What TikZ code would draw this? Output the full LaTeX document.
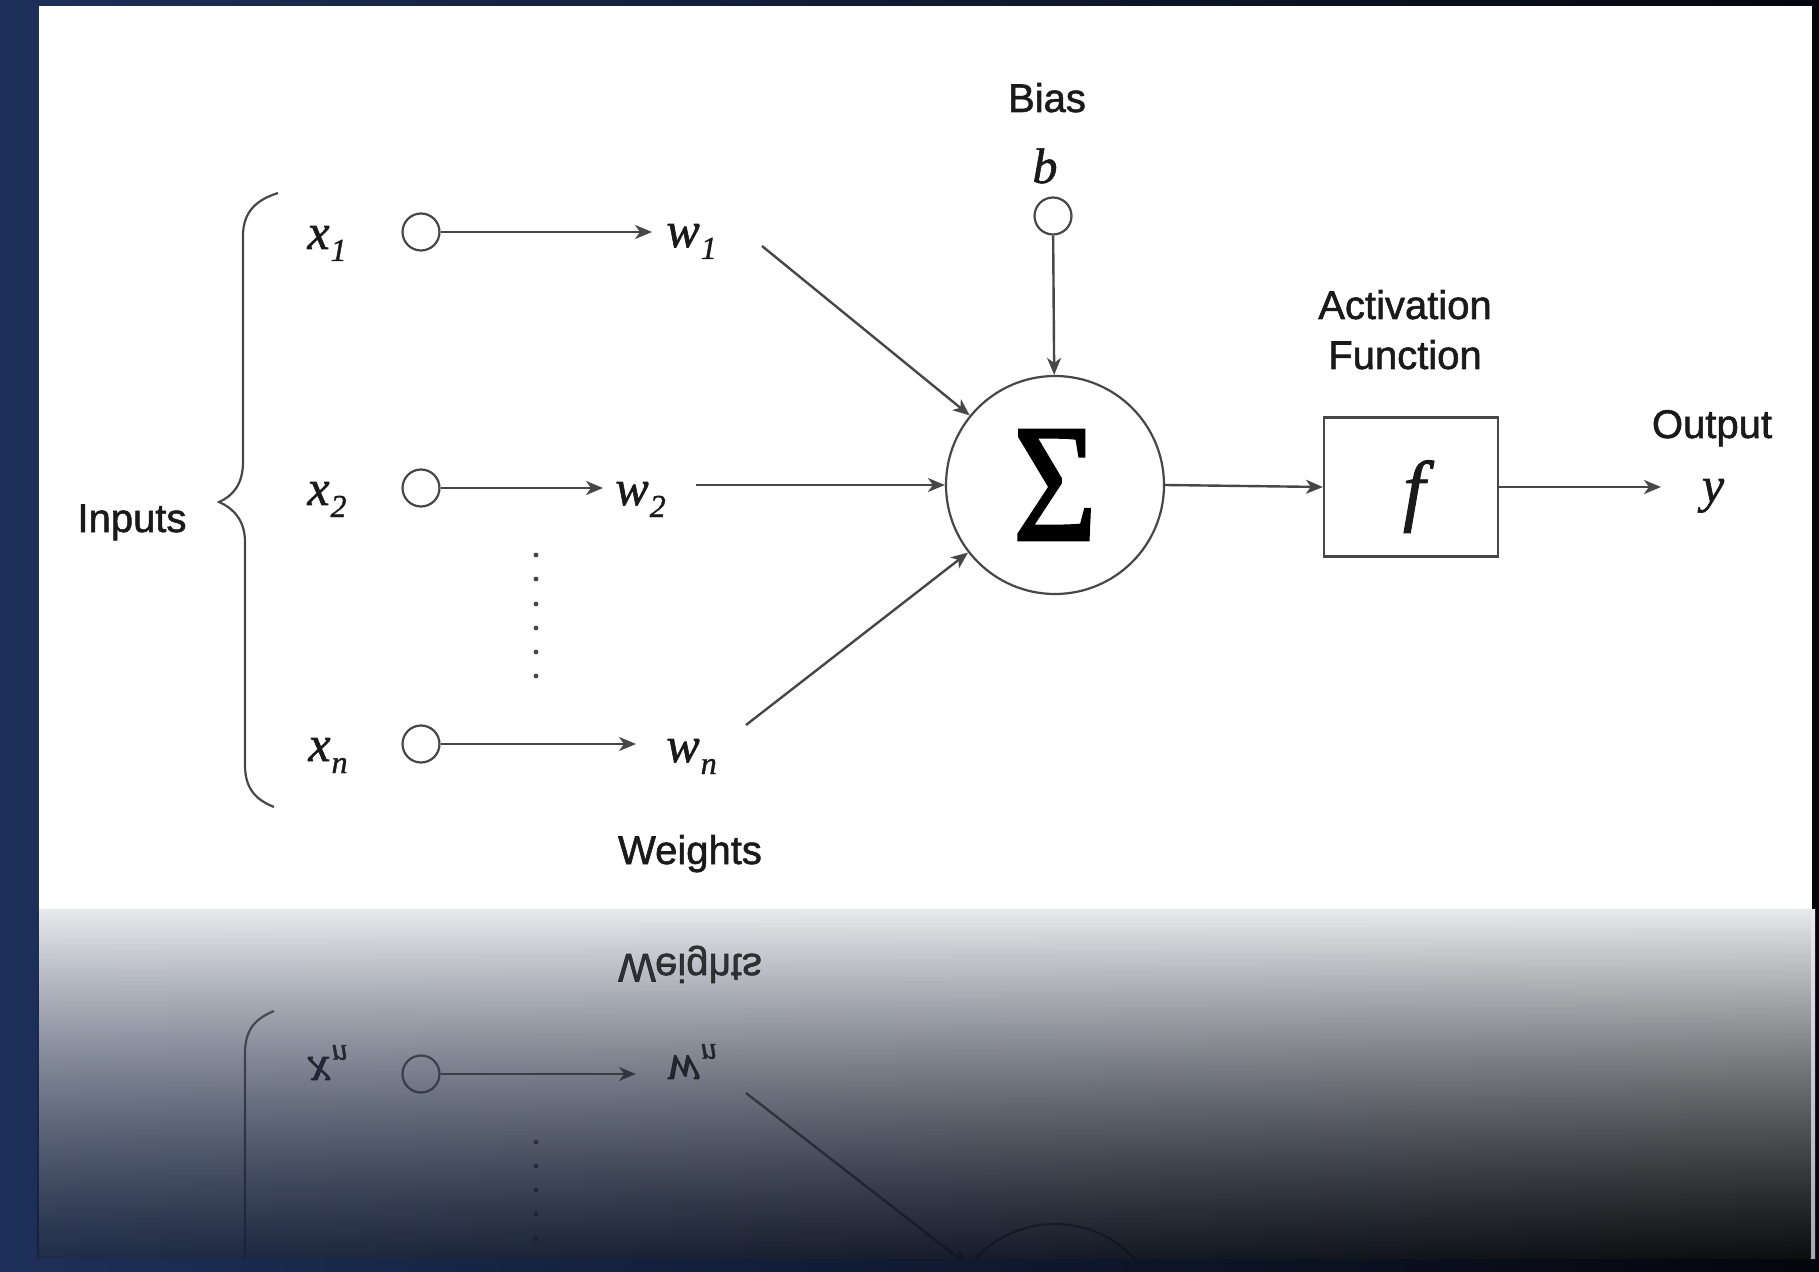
\documentclass[tikz,border=0pt]{standalone}
\usepackage{fontspec}
\setmainfont{Liberation Sans}
\newfontface\lblfont{Liberation Sans}[FakeBold=1.4]
\newfontface\timesi{Liberation Serif Italic}[FakeBold=1.2]
\newfontface\sigface{Liberation Serif}[FakeBold=1.6]
\usepackage{graphicx}
\usetikzlibrary{arrows.meta,fadings,calc}

\definecolor{navyL}{HTML}{1D3059}
\definecolor{navyD}{HTML}{03060C}
\definecolor{lineC}{HTML}{474747}
\definecolor{textC}{HTML}{1A1A1A}
\definecolor{refTop}{HTML}{E9EAED}
\definecolor{refMid}{HTML}{A3A8B2}
\definecolor{refBot}{HTML}{15223F}

\tikzfading[name=fadeup, top color=transparent!100, bottom color=transparent!8]

\tikzset{
  lbl/.style={font=\lblfont\fontsize{20}{25}\selectfont, text=textC, inner sep=0pt, anchor=base},
  mth/.style={font=\timesi\fontsize{25}{28}\selectfont, text=textC, inner sep=0pt, anchor=base west},
  incirc/.style={circle, draw=lineC, line width=1.1pt, minimum size=18.5pt, inner sep=0pt},
  conn/.style={draw=lineC, line width=1.2pt, -{Stealth[length=8.5pt,width=7pt,inset=2.5pt]}},
  sumcirc/.style={circle, draw=lineC, line width=1.1pt, minimum size=109pt, inner sep=0pt},
  fnbox/.style={draw=lineC, line width=1.1pt, minimum width=87pt, minimum height=69.5pt, inner sep=0pt},
  bracepath/.style={draw=lineC, line width=1.1pt},
}

\newcommand\mlab[2]{#1\kern0.5pt\raisebox{-6pt}{\fontsize{16}{16}\selectfont #2}}

\newcommand\neurondiagram{%
  % labels
  \node[lbl] (biasT) at (1047,112) {Bias};
  \node[mth, anchor=base] (bT) at (1045,183) {b};
  \node[incirc] (bc) at (1053,216) {};
  \node[sumcirc] (sum) at (1055,485) {\resizebox*{42pt}{55pt}{\sigface Σ}};
  \node[lbl, align=center] (actT) at (1405,369) {Activation\\Function};
  \node[fnbox] (fb) at (1411,487) {};
  \node[font=\timesi\fontsize{39.5}{40}\selectfont, text=textC, inner sep=0pt, anchor=base] (fT) at (1414,516) {f};
  \node[lbl] (outT) at (1712,438) {Output};
  \node[mth, anchor=base] (yT) at (1713,502) {y};
  \node[lbl] (inT) at (132,532) {Inputs};
  \node[lbl] (wT) at (690,864) {Weights};
  % inputs
  \node[mth] (x1) at (307,249) {\mlab{x}{1}};
  \node[mth] (x2) at (307,505) {\mlab{x}{2}};
  \node[mth] (xn) at (308,761) {\mlab{x}{n}};
  \node[incirc] (c1) at (421,232) {};
  \node[incirc] (c2) at (421,488) {};
  \node[incirc] (cn) at (421,744) {};
  \node[mth] (w1) at (666,247) {\mlab{w}{1}};
  \node[mth] (w2) at (615,505) {\mlab{w}{2}};
  \node[mth] (wn) at (666,762) {\mlab{w}{n}};
  \coordinate (t1) at (652,232);
  \coordinate (t2) at (603,488);
  \coordinate (tn) at (636,744);
  \coordinate (s1) at (762,246);
  \coordinate (s2) at (696,485);
  \coordinate (sn) at (746,725);
  \coordinate (yt) at (1661,487);
  % connectors
  \draw[conn] (c1) -- (t1);
  \draw[conn] (c2) -- (t2);
  \draw[conn] (cn) -- (tn);
  \draw[conn] (s1) -- (sum);
  \draw[conn] (s2) -- (sum);
  \draw[conn] (sn) -- (sum);
  \draw[conn] (bc) -- (sum);
  \draw[conn] (sum.east) -- (fb.west);
  \draw[conn] (fb.east) -- (yt);
  % dots
  \foreach \yy in {555,579,604,628,652,676} \fill[lineC] (536,\yy) circle (1.2pt);
  % brace
  \draw[bracepath] (278,193) .. controls (256,200) and (243,212) .. (243,236)
     -- (243,462) .. controls (243,484) and (233,496) .. (219,502)
     .. controls (233,508) and (245,520) .. (245,542)
     -- (245,765) .. controls (245,790) and (257,800) .. (274,807);
}

\begin{document}
\begin{tikzpicture}[x=0.5pt, y=-0.5pt]
  \useasboundingbox (0,0) rectangle (1819,1272);
  \shade[left color=navyL, right color=navyD] (0,0) rectangle (1819,1272);
  \fill[white] (39,6) rectangle (1812,909);
  \shade[top color=refTop, bottom color=refMid] (39,909) rectangle (1815,1258);
  % reflection
  \begin{scope}
    \clip (39,909) rectangle (1815,1258);
    \begin{scope}[yshift=-909pt, yscale=-1, transform shape, opacity=0.85]
      \neurondiagram
    \end{scope}
  \end{scope}
  \shade[left color=refBot, right color=black, path fading=fadeup] (39,909) rectangle (1815,1258);
  % main diagram
  \neurondiagram
\end{tikzpicture}
\end{document}
